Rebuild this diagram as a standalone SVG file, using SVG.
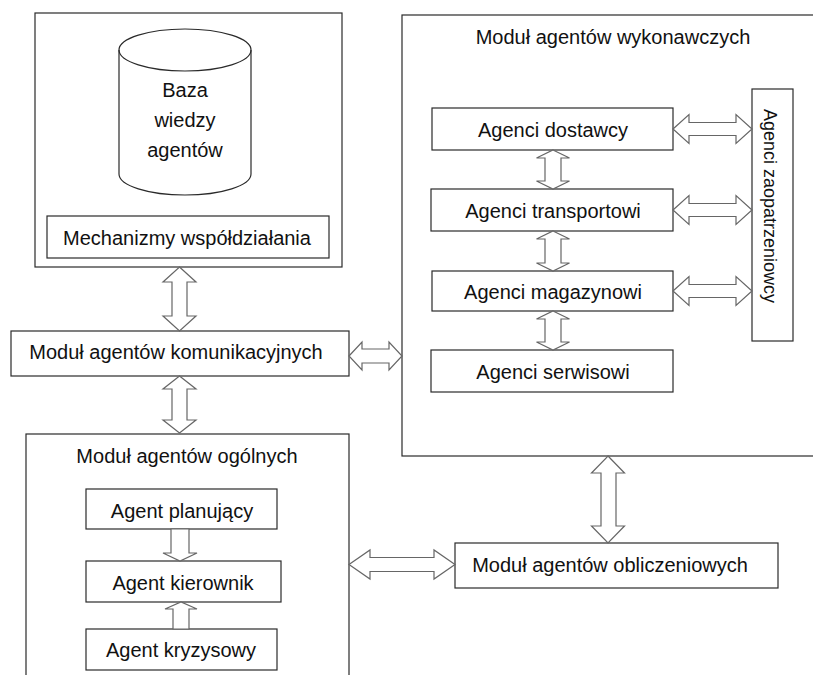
<svg xmlns="http://www.w3.org/2000/svg" width="813" height="675" viewBox="0 0 813 675">
<style>
.box{fill:#fff;stroke:#2a2a2a;stroke-width:1.2}
.arr{fill:#fff;stroke:#666;stroke-width:1.2;stroke-linejoin:miter}
text{font-family:"Liberation Sans",Arial,sans-serif;font-size:20px;fill:#111;text-anchor:middle}
</style>
<rect width="813" height="675" fill="#fff"/>
<g id="modul-wiedzy">
<rect class="box" x="35" y="13" width="307" height="254"/>
</g>
<g id="baza-wiedzy">
<path class="box" d="M119,50 L119,174 A66,21 0 0 0 251,174 L251,50 A66,21 0 0 0 119,50 Z"/>
<path d="M119,50 A66,21 0 0 0 251,50" fill="none" stroke="#2a2a2a" stroke-width="1.2"/>
<text x="185" y="97">Baza</text>
<text x="185" y="127">wiedzy</text>
<text x="185" y="157">agentów</text>
</g>
<g id="mechanizmy">
<rect class="box" x="47" y="216" width="282" height="42"/>
<text x="187" y="245">Mechanizmy współdziałania</text>
</g>
<g id="modul-wykonawczych">
<rect class="box" x="402" y="15" width="420" height="441"/>
<text x="613" y="44">Moduł agentów wykonawczych</text>
</g>
<g id="agenci-dostawcy">
<rect class="box" x="432" y="108" width="241" height="42"/>
<text x="553" y="137">Agenci dostawcy</text>
</g>
<g id="agenci-transportowi">
<rect class="box" x="431" y="189" width="242" height="42"/>
<text x="553" y="218">Agenci transportowi</text>
</g>
<g id="agenci-magazynowi">
<rect class="box" x="432" y="271" width="241" height="40"/>
<text x="553" y="299">Agenci magazynowi</text>
</g>
<g id="agenci-serwisowi">
<rect class="box" x="431" y="350" width="242" height="42"/>
<text x="553" y="379">Agenci serwisowi</text>
</g>
<g id="agenci-zaopatrzeniowcy">
<rect class="box" x="752" y="89" width="41" height="252"/>
<text x="0" y="0" transform="translate(764,206) rotate(90)" style="font-size:18px">Agenci zaopatrzeniowcy</text>
</g>
<g id="modul-komunikacyjnych">
<rect class="box" x="11" y="331" width="338" height="45"/>
<text x="176" y="359">Moduł agentów komunikacyjnych</text>
</g>
<g id="modul-ogolnych">
<rect class="box" x="26" y="434" width="323" height="250"/>
<text x="187" y="463">Moduł agentów ogólnych</text>
</g>
<g id="agent-planujacy">
<rect class="box" x="86" y="489" width="191" height="40"/>
<text x="182" y="518">Agent planujący</text>
</g>
<g id="agent-kierownik">
<rect class="box" x="86" y="561" width="195" height="41"/>
<text x="183" y="590">Agent kierownik</text>
</g>
<g id="agent-kryzysowy">
<rect class="box" x="86" y="629" width="191" height="41"/>
<text x="181" y="657">Agent kryzysowy</text>
</g>
<g id="modul-obliczeniowych">
<rect class="box" x="455" y="543" width="323" height="45"/>
<text x="610" y="572">Moduł agentów obliczeniowych</text>
</g>
<g id="connectors">
<polygon class="arr" points="179.5,267 196,282 187,282 187,316 196,316 179.5,331 163,316 172,316 172,282 163,282"/>
<polygon class="arr" points="179.5,376 196,389 187,389 187,420 196,420 179.5,433 163,420 172,420 172,389 163,389"/>
<polygon class="arr" points="349,356 362,342 362,349 389,349 389,342 402,356 389,370 389,363 362,363 362,370"/>
<polygon class="arr" points="553,150 569.5,158 561,158 561,181 569.5,181 553,189 536.5,181 545,181 545,158 536.5,158"/>
<polygon class="arr" points="553,231 569.5,239 561,239 561,263 569.5,263 553,271 536.5,263 545,263 545,239 536.5,239"/>
<polygon class="arr" points="553,311 569.5,319 561,319 561,342 569.5,342 553,350 536.5,342 545,342 545,319 536.5,319"/>
<polygon class="arr" points="673,129 689,114.5 689,122.5 736,122.5 736,114.5 752,129 736,143.5 736,135.5 689,135.5 689,143.5"/>
<polygon class="arr" points="673,210 689,195.5 689,203.5 736,203.5 736,195.5 752,210 736,224.5 736,216.5 689,216.5 689,224.5"/>
<polygon class="arr" points="673,291 689,276.5 689,284.5 736,284.5 736,276.5 752,291 736,305.5 736,297.5 689,297.5 689,305.5"/>
<polygon class="arr" points="608,456 624.5,473 616,473 616,526 624.5,526 608,543 591.5,526 601,526 601,473 591.5,473"/>
<polygon class="arr" points="349,564.5 370,550 370,557.5 434,557.5 434,550 455,564.5 434,579 434,571.5 370,571.5 370,579"/>
<polygon class="arr" points="171,529 189,529 189,553 197,553 180,561 163,553 171,553"/>
<polygon class="arr" points="173,629 189,629 189,609 197,609 181,602 165,609 173,609"/>
</g>
</svg>
